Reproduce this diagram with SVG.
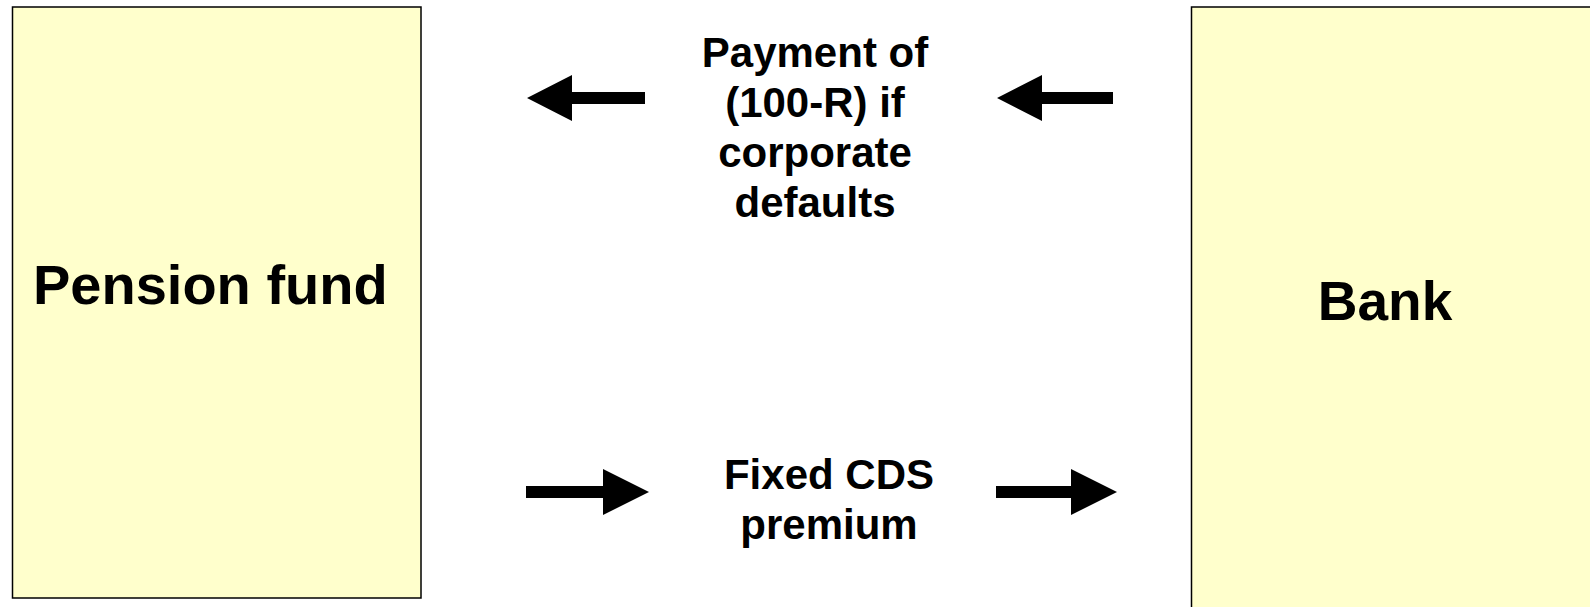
<svg xmlns="http://www.w3.org/2000/svg" width="1590" height="607" viewBox="0 0 1590 607">
  <style>
    .box { fill: #FFFFCC; stroke: #000000; stroke-width: 1.5; }
    .title { font-family: "Liberation Sans", Arial, sans-serif; font-weight: bold; font-size: 55px; fill: #000000; }
    .label { font-family: "Liberation Sans", Arial, sans-serif; font-weight: bold; font-size: 42px; fill: #000000; text-anchor: middle; }
    .arrow { fill: #000000; }
  </style>
  <rect width="1590" height="607" fill="#FFFFFF"/>

  <g id="pension-fund">
    <rect class="box" x="12.5" y="7" width="408.5" height="591"/>
    <text class="title" x="33" y="304" style="font-size:56px">Pension fund</text>
  </g>

  <g id="bank">
    <rect class="box" x="1191.5" y="7" width="420" height="620"/>
    <text class="title" x="1385" y="320" text-anchor="middle">Bank</text>
  </g>

  <g id="connectors">
    <!-- default payment: bank to pension fund -->
    <polygon class="arrow" points="527,98 572,75 572,92 645,92 645,104 572,104 572,121"/>
    <polygon class="arrow" points="997,98 1042,75 1042,92 1113,92 1113,104 1042,104 1042,121"/>
    <!-- premium: pension fund to bank -->
    <polygon class="arrow" points="649,492 603,469 603,486 526,486 526,498 603,498 603,515"/>
    <polygon class="arrow" points="1117,492 1071,469 1071,486 996,486 996,498 1071,498 1071,515"/>
  </g>

  <g id="labels">
    <text class="label" x="815" y="67">Payment of</text>
    <text class="label" x="815" y="117">(100-R) if</text>
    <text class="label" x="815" y="167">corporate</text>
    <text class="label" x="815" y="217">defaults</text>
    <text class="label" x="829" y="489">Fixed CDS</text>
    <text class="label" x="829" y="539">premium</text>
  </g>
</svg>
